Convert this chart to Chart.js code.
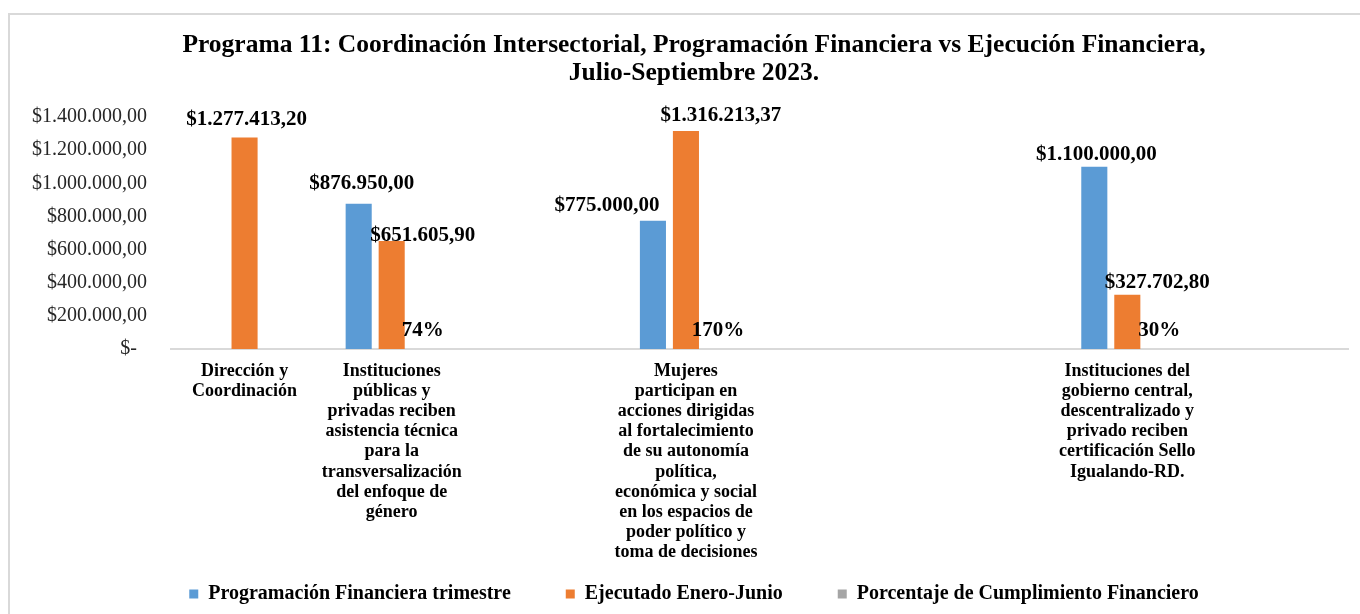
<!DOCTYPE html>
<html>
<head>
<meta charset="utf-8">
<script src="https://cdn.jsdelivr.net/npm/chart.js@4"></script>
<style>
  html, body { margin: 0; padding: 0; background: #fff; overflow: hidden; }
  #frame { position: absolute; left: 8px; top: 13px; width: 1400px; height: 700px;
           border-left: 2px solid #d9d9d9; border-top: 2px solid #d9d9d9; }
  #c { position: absolute; left: 0; top: 0; }
</style>
</head>
<body>
<div id="frame"></div>
<canvas id="c" width="1360" height="614"></canvas>
<script>
// categories (blank ones keep the spacing of the original sheet)
const categories = [
  ['Dirección y', 'Coordinación'],
  ['Instituciones', 'públicas y', 'privadas reciben', 'asistencia técnica', 'para la', 'transversalización', 'del enfoque de', 'género'],
  '',
  ['Mujeres', 'participan en', 'acciones dirigidas', 'al fortalecimiento', 'de su autonomía', 'política,', 'económica y social', 'en los espacios de', 'poder político y', 'toma de decisiones'],
  '',
  '',
  ['Instituciones del', 'gobierno central,', 'descentralizado y', 'privado reciben', 'certificación Sello', 'Igualando-RD.'],
  ''
];

const programado = [null, 876950.00, null, 775000.00, null, null, 1100000.00, null];
const ejecutado = [1277413.20, 651605.90, null, 1316213.37, null, null, 327702.80, null];
const cumplimiento = [null, 0.74, null, 1.70, null, null, 0.30, null];

const seriesNames = ['Programación Financiera trimestre', 'Ejecutado Enero-Junio', 'Porcentaje de Cumplimiento Financiero'];
const yTicks = [0, 200000, 400000, 600000, 800000, 1000000, 1200000, 1400000];

const titleLines = ['Programa 11: Coordinación Intersectorial, Programación Financiera vs Ejecución Financiera,', 'Julio-Septiembre 2023.'];

const SERIF = '"Liberation Serif", "Times New Roman", serif';
const PLOT_LEFT = 171;
const PLOT_BOTTOM = 349;
const PAD = { left: 40, right: 12, top: 0, bottom: 0 };

function money(v) {
  const parts = v.toFixed(2).split('.');
  return '$' + parts[0].replace(/\B(?=(\d{3})+(?!\d))/g, '.') + ',' + parts[1];
}

// label nudges [dx, dy] per series / category, as placed in the original
const labelNudge = [
  { 1: [3, -4], 3: [-46, 1], 6: [2, 4] },
  { 0: [2, -2], 1: [31, 11], 3: [35, 1], 6: [30, 4] },
  { 1: [-2, -2], 3: [-1, -2], 6: [-1, -2] }
];

const valueLabels = {
  id: 'valueLabels',
  afterLayout(chart) {
    // let the y tick labels reach into the left padding without being clipped
    chart.scales.y.left = 0;
  },
  afterDatasetsDraw(chart) {
    const ctx = chart.ctx;
    ctx.save();
    ctx.font = 'bold 21px ' + SERIF;
    ctx.fillStyle = '#000';
    ctx.textAlign = 'center';
    ctx.textBaseline = 'middle';
    chart.data.datasets.forEach((ds, i) => {
      const meta = chart.getDatasetMeta(i);
      meta.data.forEach((bar, j) => {
        const v = ds.data[j];
        if (v == null) return;
        const text = i < 2 ? money(v) : Math.round(v * 100) + '%';
        const n = labelNudge[i][j] || [0, 0];
        ctx.fillText(text, bar.x + n[0], bar.y - 16 + n[1]);
      });
    });
    ctx.restore();
  }
};

new Chart(document.getElementById('c'), {
  type: 'bar',
  data: {
    labels: categories,
    datasets: [
      { label: seriesNames[0], data: programado, backgroundColor: '#5b9bd5' },
      { label: seriesNames[1], data: ejecutado, backgroundColor: '#ed7d31' },
      { label: seriesNames[2], data: cumplimiento, backgroundColor: '#a5a5a5' }
    ]
  },
  options: {
    responsive: false,
    animation: false,
    categoryPercentage: 0.673,
    barPercentage: 0.79,
    layout: { padding: PAD },
    plugins: {
      title: {
        display: true,
        text: titleLines,
        color: '#000',
        font: { family: SERIF, size: 25.5, weight: 'bold', lineHeight: 1.1 },
        padding: { top: 31, bottom: 30 }
      },
      legend: {
        position: 'bottom',
        labels: {
          boxWidth: 9,
          boxHeight: 9,
          padding: 10,
          color: '#000',
          font: { family: SERIF, size: 20, weight: 'bold' },
          generateLabels(chart) {
            const items = Chart.defaults.plugins.legend.labels.generateLabels(chart);
            // wider gaps between entries, like the original
            items.forEach((it, i) => { if (i < items.length - 1) it.text += '         '; });
            return items;
          }
        }
      },
      tooltip: { enabled: false }
    },
    scales: {
      x: {
        grid: { display: false, drawTicks: false },
        border: { display: true, color: '#d9d9d9', width: 2 },
        afterFit(scale) {
          const lg = scale.chart.legend;
          scale.height = 614 - PAD.bottom - (lg && lg.height ? lg.height : 0) - PLOT_BOTTOM;
        },
        ticks: {
          autoSkip: false,
          maxRotation: 0,
          padding: 12,
          color: '#000',
          font: { family: SERIF, size: 18, weight: 'bold', lineHeight: 1.12 }
        }
      },
      y: {
        min: 0,
        max: 1400000,
        afterBuildTicks(scale) { scale.ticks = yTicks.map(v => ({ value: v })); },
        afterFit(scale) { scale.width = PLOT_LEFT - PAD.left; },
        grid: { display: false, drawTicks: false },
        border: { display: false },
        ticks: {
          padding: 24,
          color: '#262626',
          font: { family: SERIF, size: 20 },
          callback: v => v === 0 ? '$-  ' : money(v)
        }
      }
    }
  },
  plugins: [valueLabels]
});
</script>
</body>
</html>
